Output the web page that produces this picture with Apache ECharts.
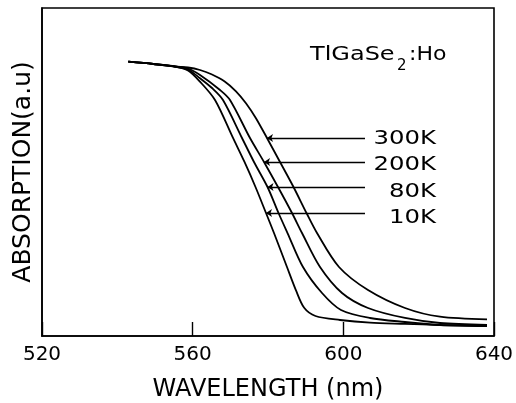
<!DOCTYPE html>
<html><head><meta charset="utf-8">
<script src="https://cdn.jsdelivr.net/npm/echarts@6/dist/echarts.min.js"></script>
<style>html,body{margin:0;padding:0;background:#fff}#c{width:516px;height:403px}</style>
</head><body><div id="c"></div>
<script>
// ---- data ----
const xTicks = [520, 560, 600, 640];
const seriesNames = ['300K', '200K', '80K', '10K'];

const wl300 = [542.91, 549.55, 555.31, 558.76, 561.95, 565.0, 568.5, 571.5, 574.2, 576.8, 579.73, 583.19, 586.77, 590.22, 593.01, 598.85, 606.55, 616.37, 625.66, 638.14];
const ab300 = [83.63, 82.93, 82.16, 81.86, 81.10, 79.80, 77.60, 74.60, 70.90, 66.40, 60.37, 53.05, 45.43, 37.50, 31.40, 21.04, 14.02, 8.54, 5.88, 5.09];

const wl200 = [542.91, 549.55, 555.31, 558.76, 561.95, 567.26, 569.91, 575.22, 578.94, 582.65, 586.37, 589.03, 593.81, 599.65, 606.55, 616.37, 625.66, 638.14];
const ab200 = [83.63, 82.93, 82.16, 81.55, 79.57, 75.00, 71.95, 60.37, 53.05, 45.43, 37.50, 31.40, 21.04, 13.11, 8.54, 5.49, 3.96, 3.35];

const wl80 = [542.91, 549.55, 555.31, 558.76, 561.95, 565.13, 568.05, 573.10, 576.28, 579.87, 582.79, 585.18, 589.29, 594.34, 599.38, 607.08, 616.37, 625.66, 638.14];
const ab80 = [83.63, 82.93, 82.16, 81.25, 78.57, 75.61, 71.95, 60.37, 53.05, 45.43, 37.50, 31.40, 21.04, 13.11, 7.93, 5.49, 4.27, 3.35, 3.05];

const wl10 = [542.91, 549.55, 555.31, 558.76, 561.95, 565.93, 570.71, 573.76, 576.68, 579.47, 581.59, 585.04, 587.40, 589.60, 592.60, 599.12, 607.08, 616.37, 625.66, 638.14];
const ab10 = [83.63, 82.93, 82.16, 80.95, 77.53, 71.95, 60.37, 53.05, 45.43, 37.50, 31.40, 21.04, 14.00, 8.60, 6.10, 4.88, 4.05, 3.70, 3.35, 3.05];

// annotation arrows (data coords): level of each arrow, tip wavelength, tail wavelength
const arrowLevel = [60.37, 53.05, 45.43, 37.50];
const arrowTip = [579.73, 578.94, 579.87, 579.47];
const arrowTail = 605.75;

// ---- chart ----
const pairs = (xs, ys) => xs.map((x, i) => [x, ys[i]]);
const curves = [pairs(wl300, ab300), pairs(wl200, ab200), pairs(wl80, ab80), pairs(wl10, ab10)];
const FONT = '"DejaVu Sans", "Liberation Sans", sans-serif';

const series = curves.map((d, i) => ({
  name: seriesNames[i],
  type: 'line',
  data: d,
  showSymbol: false,
  smooth: 0.3,
  lineStyle: { color: '#000', width: 1.8 },
  z: 3,
  markLine: {
    silent: true,
    symbol: ['none', 'arrow'],
    symbolSize: 6,
    label: { show: false },
    lineStyle: { color: '#000', width: 1.3, type: 'solid' },
    emphasis: { disabled: true },
    data: [[{ coord: [arrowTail, arrowLevel[i]] }, { coord: [arrowTip[i], arrowLevel[i]] }]]
  }
}));

const labelY = [139, 165, 192, 218];
const graphics = seriesNames.map((n, i) => ({
  type: 'text', x: 436, y: labelY[i], scaleX: 1.22,
  style: { text: n, fontSize: 20, fontFamily: FONT, fill: '#000', align: 'right', verticalAlign: 'middle' }
}));
graphics.push(
  { type: 'text', x: 310, y: 55, scaleX: 1.2,
    style: { text: 'TlGaSe', fontSize: 20, fontFamily: FONT, fill: '#000', align: 'left', verticalAlign: 'middle' } },
  { type: 'text', x: 397, y: 66,
    style: { text: '2', fontSize: 15, fontFamily: FONT, fill: '#000', align: 'left', verticalAlign: 'middle' } },
  { type: 'text', x: 409, y: 55, scaleX: 1.1,
    style: { text: ':Ho', fontSize: 20, fontFamily: FONT, fill: '#000', align: 'left', verticalAlign: 'middle' } }
);

const chart = echarts.init(document.getElementById('c'), null, { renderer: 'canvas' });
chart.setOption({
  animation: false,
  backgroundColor: '#fff',
  grid: { left: 42, right: 22, top: 8, bottom: 67, outerBoundsMode: 'none', containLabel: false,
    show: true, borderColor: '#000', borderWidth: 1.6, backgroundColor: 'transparent' },
  xAxis: {
    type: 'value', min: xTicks[0], max: xTicks[xTicks.length - 1], interval: 40,
    name: 'WAVELENGTH (nm)', nameLocation: 'middle', nameGap: 42,
    nameTextStyle: { fontSize: 24, fontFamily: FONT, color: '#000' },
    axisLine: { show: true, lineStyle: { color: '#000', width: 1.6 } },
    axisTick: { show: true, inside: true, length: 14, lineStyle: { color: '#000', width: 1.4 } },
    axisLabel: { fontSize: 20, fontFamily: FONT, color: '#000', margin: 9, showMinLabel: true, showMaxLabel: true },
    splitLine: { show: false }
  },
  yAxis: {
    type: 'value', min: 0, max: 100,
    name: 'ABSORPTION(a.u)', nameLocation: 'middle', nameGap: 6, nameRotate: 90,
    nameTextStyle: { fontSize: 25, fontFamily: FONT, color: '#000' },
    axisLine: { show: true, lineStyle: { color: '#000', width: 1.6 } },
    axisTick: { show: false },
    axisLabel: { show: false },
    splitLine: { show: false }
  },
  series: series,
  graphic: graphics
});
</script>
</body></html>
